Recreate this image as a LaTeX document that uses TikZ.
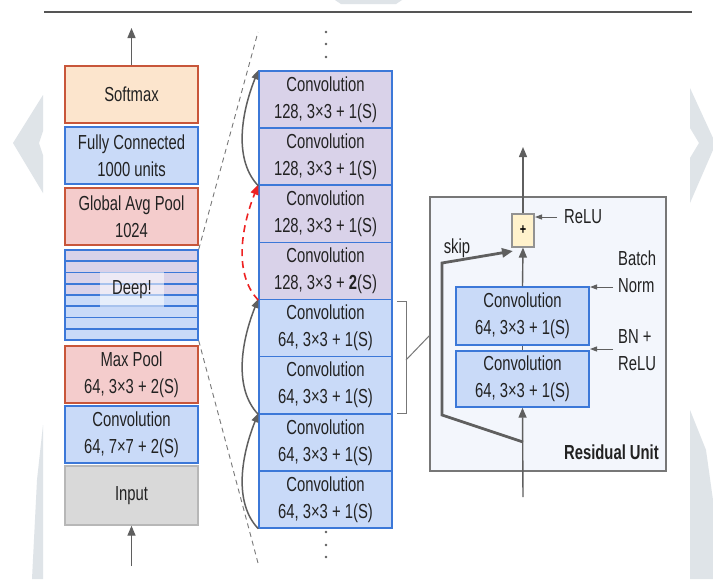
\documentclass[tikz,border=0pt]{standalone}
\usepackage{fontspec}
\setmainfont[FakeStretch=0.73]{Liberation Sans}
\usetikzlibrary{arrows.meta}
\definecolor{blueF}{HTML}{C9DAF8}
\definecolor{blueD}{HTML}{3C78D8}
\definecolor{purpF}{HTML}{D9D2E9}
\definecolor{redF}{HTML}{F4CCCC}
\definecolor{redD}{HTML}{C8563A}
\definecolor{orF}{HTML}{FCE5CD}
\definecolor{grayF}{HTML}{D9D9D9}
\definecolor{grayD}{HTML}{B7B7B7}
\definecolor{arr}{HTML}{5F5F5F}
\definecolor{wm}{HTML}{DFE4E8}
\definecolor{resF}{HTML}{F3F6FC}
\definecolor{resD}{HTML}{777777}
\definecolor{plusF}{HTML}{FFF2CC}
\definecolor{txt}{HTML}{222222}
\definecolor{redA}{HTML}{EE2222}
\definecolor{rule}{HTML}{555555}
\begin{document}
\begin{tikzpicture}[x=1pt,y=-1pt,
  lbl/.style={font=\fontsize{20.3}{27}\selectfont, text=txt, inner sep=0pt},
  blk/.style={lbl, draw, line width=1.4pt, minimum width=133pt, minimum height=57pt, align=center},
  bluebox/.style={blk, fill=blueF, draw=blueD},
  purpbox/.style={blk, fill=purpF, draw=blueD},
  redbox/.style={blk, fill=redF, draw=redD},
  flow/.style={draw=arr, line width=1.4pt, -{Triangle[length=10pt,width=8pt]}},
  sarr/.style={draw=arr, line width=1pt, -{Triangle[length=7pt,width=5pt]}},
  skiparr/.style={draw=arr, line width=1.5pt, -{Triangle[length=9pt,width=7pt]}},
  zoomline/.style={draw=resD, line width=0.9pt, dash pattern=on 5pt off 4pt},
]
\useasboundingbox (0,0) rectangle (713,579);
\fill[white] (0,0) rectangle (713,579);
% watermark shapes
\fill[wm] (43,95) -- (13,143) -- (43,193) -- (43,155) -- (39,143) -- (43,131) -- cycle;
\fill[wm] (43,425) -- (37,480) -- (32,579) -- (43,579) -- cycle;
\fill[wm] (690,88) -- (713,138) -- (713,150) -- (690,203) -- (690,158) -- (699,143) -- (690,128) -- cycle;
\fill[wm] (690,410) -- (706,450) -- (713,500) -- (713,579) -- (690,579) -- cycle;
\fill[wm] (335,0) -- (402,0) -- (396,4) -- (341,4) -- cycle;
% top rule
\draw[rule, line width=2pt] (44,12) -- (692,12);

% ---------- left column ----------
\node[blk, fill=orF, draw=redD] (soft) at (131.5,94.5) {Softmax};
\node[bluebox] (fc) at (131.5,155.5) {Fully Connected\\1000 units};
\node[redbox] (gap) at (131.5,216.5) {Global Avg Pool\\1024};
% deep block stripes
\foreach \i in {0,1,2,3} {
  \fill[purpF] (65,250+\i*11.25) rectangle (198,250+\i*11.25+11.25);
}
\foreach \i in {4,5,6,7} {
  \fill[blueF] (65,250+\i*11.25) rectangle (198,250+\i*11.25+11.25);
}
\foreach \i in {1,...,7} {
  \draw[blueD, line width=1.6pt] (65,250+\i*11.25) -- (198,250+\i*11.25);
}
\node[lbl, draw=blueD, line width=1.5pt, minimum width=133pt, minimum height=90pt] (deep) at (131.5,295) {};
\node[lbl, fill=white, fill opacity=0.55, text opacity=1, minimum width=64pt, minimum height=35pt] (deeplbl) at (132,289.5) {Deep!};
\node[redbox] (maxp) at (131.5,374.5) {Max Pool\\64, 3×3 + 2(S)};
\node[bluebox] (conv0) at (131.5,434.5) {Convolution\\64, 7×7 + 2(S)};
\node[blk, fill=grayF, draw=grayD, minimum height=59pt] (input) at (131.5,495.5) {Input};
\coordinate (outtop) at (131.5,28);
\coordinate (inbot) at (131.5,566);
\draw[flow] (soft.north) -- (outtop);
\draw[flow] (inbot) -- (input.south);

% zoom lines
\coordinate (dt) at (258,32);
\coordinate (db) at (258,563);
\draw[zoomline] (deep.north east) -- (dt);
\draw[zoomline] (deep.south east) -- (db);

% ---------- middle column ----------
\node[purpbox] (c1) at (325.5,99.5) {Convolution\\128, 3×3 + 1(S)};
\node[purpbox] (c2) at (325.5,156.6) {Convolution\\128, 3×3 + 1(S)};
\node[purpbox] (c3) at (325.5,213.8) {Convolution\\128, 3×3 + 1(S)};
\node[purpbox] (c4) at (325.5,270.9) {Convolution\\128, 3×3 + \textbf{2}(S)};
\node[bluebox] (c5) at (325.5,328.1) {Convolution\\64, 3×3 + 1(S)};
\node[bluebox] (c6) at (325.5,385.2) {Convolution\\64, 3×3 + 1(S)};
\node[bluebox] (c7) at (325.5,442.4) {Convolution\\64, 3×3 + 1(S)};
\node[bluebox] (c8) at (325.5,499.5) {Convolution\\64, 3×3 + 1(S)};
% dots
\foreach \y in {32,44,57,532,545,557} {
  \fill[arr] (326,\y) circle (1.4);
}
% skip curves
\draw[skiparr] (c8.south west) .. controls +(-24,-25) and +(-18,45) .. (c7.north west);
\draw[skiparr] (c6.south west) .. controls +(-24,-25) and +(-18,45) .. (c5.north west);
\draw[draw=redA, line width=1.6pt, dash pattern=on 7pt off 5pt, -{Triangle[length=10pt,width=8pt]}, redA] (c4.south west) .. controls +(-24,-25) and +(-18,45) .. (c3.north west);
\draw[skiparr] (c2.south west) .. controls +(-24,-25) and +(-18,45) .. (c1.north west);

% bracket
\coordinate (b1) at (397,301);
\coordinate (b2) at (406,301);
\coordinate (b3) at (406,413);
\coordinate (b4) at (397,413);
\coordinate (bm) at (406,360);
\draw[resD, line width=1pt] (b1) -- (b2) -- (b3) -- (b4);

% ---------- residual unit ----------
\node[draw=resD, fill=resF, line width=1.2pt, minimum width=236pt, minimum height=274pt, inner sep=0pt] (res) at (548,334) {};
\coordinate (rl) at (430,335);
\draw[resD, line width=1pt] (bm) -- (rl);
\node[bluebox, minimum height=58pt] (r1) at (522.5,316) {Convolution\\64, 3×3 + 1(S)};
\node[bluebox, minimum height=56pt] (r2) at (522.5,379) {Convolution\\64, 3×3 + 1(S)};
\node[draw=resD!80, fill=plusF, line width=1.1pt, minimum width=22pt, minimum height=33pt, inner sep=0pt, font=\fontsize{15}{15}\selectfont\bfseries, text=black] (plus) at (523,230.5) {+};
\coordinate (rin) at (523,497);
\coordinate (rout) at (523,147);
\draw[flow] (rin) -- (r2.south);
\draw[draw=arr, line width=1.4pt] (r2.north) -- (r1.south);
\draw[flow] (r1.north) -- (plus.south);
\draw[flow] (plus.north) -- (rout);
% skip connection
\coordinate (s1) at (523,442);
\coordinate (s2) at (442,415);
\coordinate (s3) at (442,263);
\coordinate (sk) at (513,251);
\draw[draw=arr, line width=2.8pt, -{Triangle[length=11pt,width=9pt]}] (s1) -- (s2) -- (s3) -- (sk);
\node[lbl] (skip) at (457,248) {skip};
% side labels
\node[lbl, anchor=west] (relu) at (564,217) {ReLU};
\node[lbl, anchor=west, align=left] (bn) at (618,272) {Batch\\Norm};
\node[lbl, anchor=west, align=left] (bnr) at (618,350) {BN +\\ReLU};
\coordinate (a1) at (557,217);
\coordinate (a2) at (535,217);
\coordinate (a3) at (613,287);
\coordinate (a4) at (590,287);
\coordinate (a5) at (613,349);
\coordinate (a6) at (590,349);
\draw[sarr] (a1) -- (a2);
\draw[sarr] (a3) -- (a4);
\draw[sarr] (a5) -- (a6);
\node[lbl, anchor=east, font=\fontsize{20.3}{27}\selectfont\bfseries] (rulbl) at (659,452) {Residual Unit};
\end{tikzpicture}
\end{document}
